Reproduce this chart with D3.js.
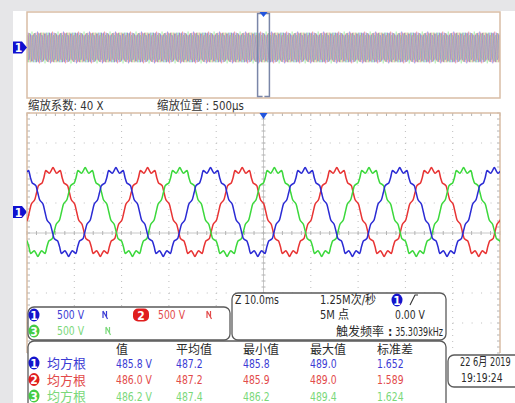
<!DOCTYPE html>
<html><head><meta charset="utf-8">
<script src="https://cdn.jsdelivr.net/npm/d3@7"></script>
<style>body{margin:0;background:#fff;overflow:hidden}svg{display:block}</style>
</head><body><svg id="c" width="515" height="403"></svg>
<script>
// ---------------- data ----------------
const periodMs = 20;                 // one cycle of each phase (ms)
// one cycle of the phase voltage (V), 52 samples from the rising zero crossing
const periodShape = [0,124,168,208,325,438,464,484,576,690,670,645,690,740,690,645,670,690,576,484,464,438,325,208,168,124,
  0,-124,-168,-208,-325,-438,-464,-484,-576,-690,-670,-645,-690,-740,-690,-645,-670,-690,-576,-484,-464,-438,-325,-208,-168,-124];
const channels = ["1","2","3"];
const channelPeakMs = [8.8, 15.5, 2.3];   // time of a positive crest on screen, per channel
const voltsPerDiv = [500, 500, 500];
const groundDiv = 0.7;                   // channel ground marker, divisions above centre
const mainSpanMs = [-50, 50];            // Z 10.0ms/div, 10 div
const zoomFactor = 40;
const zoomInfo = ["缩放系数: 40 X", "缩放位置 : 500μs"];
const timebaseTexts = ["Z 10.0ms", "1.25M次/秒", "5M 点", "0.00 V", "触发频率", ":", "35.3039kHz"];
const measHeaders = ["值", "平均值", "最小值", "最大值", "标准差"];
const measLabel = "均方根";
const measRms  = ["485.8 V", "486.0 V", "486.2 V"];
const measMean = ["487.2", "487.2", "487.4"];
const measMin  = ["485.8", "485.9", "486.2"];
const measMax  = ["489.0", "489.0", "489.4"];
const measStd  = ["1.652", "1.589", "1.624"];
const dateTexts = ["22 6月 2019", "19:19:24"];

// ---------------- style ----------------
const W = 515, H = 403;
const waveColor = {"1":"#2b2bd4","2":"#e83434","3":"#3cd83c"};
const textColor = {"1":"#3b3bd4","2":"#e24a4a","3":"#7ad87a"};
const badgeColor = {"1":"#1414cc","2":"#e01e1e","3":"#44cc44"};
const FONT = "'Liberation Sans Narrow','DejaVu Sans Condensed','Noto Sans CJK SC',sans-serif";
const borderCol = "#d9bda5";

const svg = d3.select("#c");
svg.append("rect").attr("width", W).attr("height", H).attr("fill", "#e6e6e8");
svg.append("rect").attr("x", 13).attr("y", 11).attr("width", W - 13).attr("height", H - 11).attr("fill", "#fff");

// scales
const M = {x0: 27, x1: 500, y0: 113, y1: 353};
const x = d3.scaleLinear().domain(mainSpanMs).range([M.x0, M.x1]);
const y = d3.scaleLinear().domain([-4, 4]).range([M.y1, M.y0]);
const T = {x0: 27, x1: 500, y0: 12, y1: 98};
const xT = d3.scaleLinear().domain([mainSpanMs[0] * zoomFactor, mainSpanMs[1] * zoomFactor]).range([T.x0, T.x1]);
const yT = d3.scaleLinear().domain([-4, 4]).range([T.y1, T.y0]);

function samples(ci, tMin, tMax, stride) {
  const n = periodShape.length, dt = periodMs / n, peak = channelPeakMs[ci], pk = 13;
  const kMin = Math.floor((tMin - peak) / dt) + pk - stride, kMax = Math.ceil((tMax - peak) / dt) + pk + stride;
  const out = [];
  for (let k = kMin; k <= kMax; k += stride) {
    out.push({t: peak + (k - pk) * dt, v: periodShape[((k % n) + n) % n] / voltsPerDiv[ci] + groundDiv});
  }
  return out;
}

const defs = svg.append("defs");
defs.append("clipPath").attr("id", "cm").append("rect").attr("x", M.x0).attr("y", M.y0).attr("width", M.x1 - M.x0).attr("height", M.y1 - M.y0);
defs.append("clipPath").attr("id", "ct").append("rect").attr("x", T.x0).attr("y", T.y0).attr("width", T.x1 - T.x0).attr("height", T.y1 - T.y0);

// ---------- top overview ----------
const topG = svg.append("g");
const lineT = d3.line().x(d => xT(d.t)).y(d => yT(d.v));
const gT = topG.append("g").attr("clip-path", "url(#ct)");
[2, 1, 0].forEach(ci => {
  gT.append("path").attr("d", lineT(samples(ci, xT.domain()[0], xT.domain()[1], 11)))
    .attr("fill", "none").attr("stroke", waveColor[channels[ci]]).attr("stroke-width", 0.7).attr("stroke-opacity", 0.38);
});
topG.append("rect").attr("x", T.x0).attr("y", T.y0).attr("width", T.x1 - T.x0).attr("height", T.y1 - T.y0)
  .attr("fill", "none").attr("stroke", borderCol).attr("stroke-width", 1.5);
// zoom window bracket
const wx0 = xT(mainSpanMs[0]), wx1 = xT(mainSpanMs[1]);
topG.append("path").attr("d", `M${wx0 + 5},${T.y0 + 1.5}H${wx0}V${T.y1 - 1.5}H${wx0 + 5}M${wx1 - 5},${T.y0 + 1.5}H${wx1}V${T.y1 - 1.5}H${wx1 - 5}`)
  .attr("fill", "none").attr("stroke", "#7a86a8").attr("stroke-width", 1.5);
topG.append("path").attr("d", `M${xT(0) - 4},${T.y0}L${xT(0) + 4},${T.y0}L${xT(0)},${T.y0 + 5}Z`).attr("fill", "#2255dd");

// text helper: sx compresses latin runs horizontally like the scope's narrow font
function txt(x0, y0, s, col, anchor, sx) {
  return svg.append("text").attr("transform", `translate(${x0},${y0}) scale(${sx || 1},1)`)
    .attr("font-family", FONT).attr("font-size", 12)
    .attr("fill", col || "#2a2a2a").attr("text-anchor", anchor || "start").text(s);
}

// channel marker
function chMarker(cy) {
  svg.append("path").attr("d", `M13,${cy - 6}h9l5,6l-5,6h-9z`).attr("fill", "#1010d0");
  svg.append("text").attr("x", 18.5).attr("y", cy + 4.5).attr("text-anchor", "middle").attr("fill", "#fff")
    .attr("font-family", FONT).attr("font-size", 12).attr("font-weight", "bold").text("1");
}
chMarker(yT(groundDiv));
chMarker(y(groundDiv));

// zoom info texts
txt(28, 110, zoomInfo[0], "#333", "start", 0.95);
txt(157, 110, zoomInfo[1], "#333", "start", 0.95);

// ---------- main grid ----------
const grid = svg.append("g");
const gridCol = "#bdbdbd";
const divW = (M.x1 - M.x0) / 10, divH = (M.y1 - M.y0) / 8;
d3.range(-40, 41, 10).filter(t => t !== 0).forEach(t => {
  grid.append("line").attr("x1", x(t)).attr("x2", x(t)).attr("y1", M.y0).attr("y2", M.y1)
    .attr("stroke", gridCol).attr("stroke-width", 1).attr("stroke-dasharray", `1 ${divH / 5 - 1}`);
});
d3.range(-3, 4).filter(v => v !== 0).forEach(v => {
  grid.append("line").attr("x1", M.x0).attr("x2", M.x1).attr("y1", y(v)).attr("y2", y(v))
    .attr("stroke", gridCol).attr("stroke-width", 1).attr("stroke-dasharray", `1 ${divW / 5 - 1}`);
});
// centre axes
grid.append("line").attr("x1", M.x0).attr("x2", M.x1).attr("y1", y(0)).attr("y2", y(0)).attr("stroke", "#c8c8c8");
grid.append("line").attr("x1", x(0)).attr("x2", x(0)).attr("y1", M.y0).attr("y2", M.y1).attr("stroke", "#c8c8c8");
d3.range(-50, 50.01, 2).forEach(t => {
  grid.append("line").attr("x1", x(t)).attr("x2", x(t)).attr("y1", y(0) - 2).attr("y2", y(0) + 2).attr("stroke", "#b4b4b4");
  grid.append("line").attr("x1", x(t)).attr("x2", x(t)).attr("y1", M.y0).attr("y2", M.y0 + 3).attr("stroke", "#b4b4b4");
});
d3.range(-4, 4.01, 0.2).forEach(v => {
  grid.append("line").attr("x1", x(0) - 2).attr("x2", x(0) + 2).attr("y1", y(v)).attr("y2", y(v)).attr("stroke", "#b4b4b4");
  grid.append("line").attr("x1", M.x0).attr("x2", M.x0 + 3).attr("y1", y(v)).attr("y2", y(v)).attr("stroke", "#b4b4b4");
  grid.append("line").attr("x1", M.x1 - 3).attr("x2", M.x1).attr("y1", y(v)).attr("y2", y(v)).attr("stroke", "#b4b4b4");
});
svg.append("path").attr("d", `M${M.x0},${M.y1}V${M.y0}H${M.x1}V${M.y1}`).attr("fill", "none").attr("stroke", borderCol).attr("stroke-width", 1.5);

// ---------- waveforms ----------
const line = d3.line().x(d => x(d.t)).y(d => y(d.v)).curve(d3.curveMonotoneX);
const gW = svg.append("g").attr("clip-path", "url(#cm)");
[1, 2, 0].forEach(ci => {
  gW.append("path").attr("d", line(samples(ci, mainSpanMs[0], mainSpanMs[1], 1)))
    .attr("fill", "none").attr("stroke", waveColor[channels[ci]]).attr("stroke-width", 1.5).attr("stroke-linejoin", "round");
});
svg.append("path").attr("d", `M${x(0) - 4},${M.y0}L${x(0) + 4},${M.y0}L${x(0)},${M.y0 + 6}Z`).attr("fill", "#2255dd");

// ---------- panels ----------
function box(x0, y0, x1, y1) {
  svg.append("rect").attr("x", x0).attr("y", y0).attr("width", x1 - x0).attr("height", y1 - y0).attr("rx", 6)
    .attr("fill", "#fff").attr("stroke", "#5a5a5a").attr("stroke-width", 1.3);
}
function badge(cx, cy, ch, wide) {
  if (wide) svg.append("rect").attr("x", cx - 8).attr("y", cy - 6.5).attr("width", 16).attr("height", 13).attr("rx", 5).attr("fill", badgeColor[ch]);
  else svg.append("ellipse").attr("cx", cx).attr("cy", cy).attr("rx", 5.5).attr("ry", 6.5).attr("fill", badgeColor[ch]);
  svg.append("text").attr("x", cx).attr("y", cy + 4.5).attr("text-anchor", "middle").attr("font-family", FONT)
    .attr("font-size", 12).attr("font-weight", "bold").attr("fill", "#fff").text(ch);
}
function bwIcon(x0, cy, ch) {
  svg.append("path").attr("d", `M${x0},${cy - 4}v7M${x0},${cy - 4}l3.5,6v-6M${x0 + 3.5},${cy + 2}l1,2`)
    .attr("fill", "none").attr("stroke", textColor[ch]).attr("stroke-width", 1.2);
}
const SX = 0.86;

// channel box
box(28, 307, 230, 340);
badge(34, 315, "1"); txt(57, 319, voltsPerDiv[0] + " V", textColor["1"], "start", SX); bwIcon(103, 315, "1");
badge(141, 315, "2", true); txt(158, 319, voltsPerDiv[1] + " V", textColor["2"], "start", SX); bwIcon(207, 315, "2");
badge(34, 331, "3"); txt(57, 335, voltsPerDiv[2] + " V", textColor["3"], "start", SX); bwIcon(106, 331, "3");

// timebase box
box(232, 293, 446, 340);
txt(235, 304, timebaseTexts[0], null, "start", SX);
txt(320, 304, timebaseTexts[1], null, "start", 0.92);
badge(397, 300, "1");
svg.append("path").attr("d", "M410,305L415,295L418,295").attr("fill", "none").attr("stroke", "#333").attr("stroke-width", 1.1);
txt(320, 319, timebaseTexts[2], null, "start", 0.92);
txt(395, 319, timebaseTexts[3], null, "start", SX);
txt(336, 336, timebaseTexts[4]);
txt(388, 336, timebaseTexts[5]).attr("font-weight", "bold");
txt(443, 336, timebaseTexts[6], null, "end", 0.74);

// measurement box
box(28, 341, 446, 412);
const colX = [116, 176, 243, 310, 377];
measHeaders.forEach((h, i) => txt(colX[i], 354, h));
channels.forEach((ch, r) => {
  const by = 363 + r * 16.5;
  badge(34, by, ch);
  txt(47, by + 5, measLabel, textColor[ch]).attr("font-size", 13);
  [measRms, measMean, measMin, measMax, measStd].forEach((arr, i) => txt(colX[i], by + 4.5, arr[r], textColor[ch], "start", SX));
});

// date box
box(448, 355, 522, 387);
txt(460, 366, dateTexts[0], null, "start", 0.76);
txt(461, 382, dateTexts[1], null, "start", SX);
</script></body></html>
